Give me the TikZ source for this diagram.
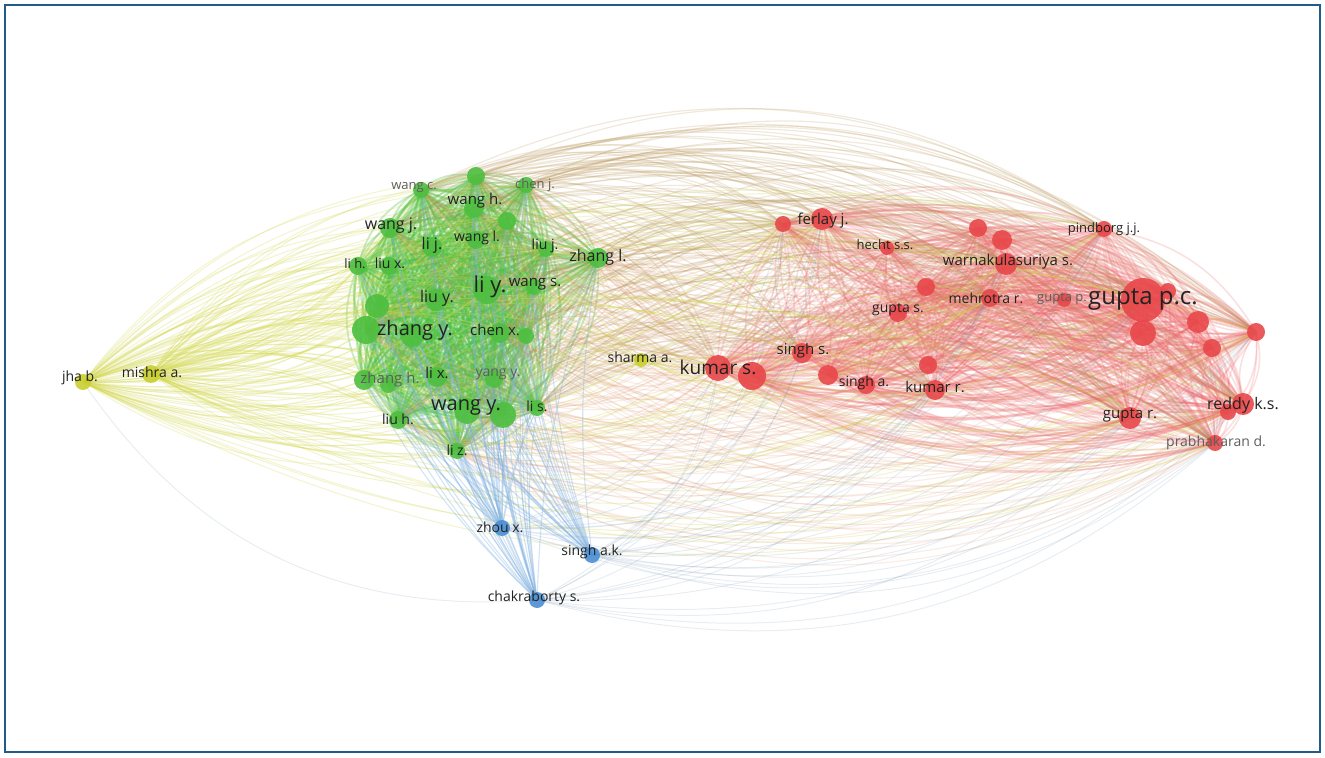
\documentclass[tikz,border=0pt]{standalone}
\usepackage{fontspec}
\setmainfont{Open Sans}
\usetikzlibrary{backgrounds}
\definecolor{frame}{HTML}{1F5C8A}
\definecolor{grn}{HTML}{4DBF3F}
\definecolor{red1}{HTML}{E8474A}
\definecolor{yel}{HTML}{C9CF2D}
\definecolor{blu}{HTML}{4A8ED2}
\definecolor{brn}{HTML}{B8965A}
\definecolor{org}{HTML}{D99064}
\definecolor{ink}{HTML}{222222}
\definecolor{ink2}{HTML}{5E5E5E}
\newcommand{\fs}[1]{\fontsize{#1}{#1}\selectfont}
\def\greenlist{g0,wangc,chenj,wangh,wangj,g1,lij,wangl,liuj,zhangl,lih,liux,liy,wangs,liuy,g2,zhangy,zhangy2,chenx,chenx2,zhangh,zhangh2,lix,yangy,wangy,wangy2,lis,liuh,liz}
\def\redlist{r1,ferlayj,hechtss,r2,r3,warnak,pindborg,r4,mehrotra,guptap,guptas,guptapc,guptapc2,r5,r6,r7,r8,kumars,kumars2,singhs,r10,singha,r11,kumarr,guptar,reddy,reddy2,prabh}
\def\greenhub{g0,wangc,wangh,wangj,chenj,zhangl,liy,zhangy,chenx,wangy,lis,liuh,liz}
\def\redhub{r1,ferlayj,warnak,pindborg,guptapc,kumars,singhs,kumarr,guptar,reddy,prabh,mehrotra,r8}

\begin{document}
\begin{tikzpicture}[x=0.5pt,y=-0.5pt,
  dot/.style={circle,inner sep=0pt,fill opacity=0.9},
  gdot/.style={dot,fill=grn},
  rdot/.style={dot,fill=red1},
  ydot/.style={dot,fill=yel},
  bdot/.style={dot,fill=blu},
  gedge/.style={grn,draw opacity=0.3,line width=0.9pt},
  redge/.style={red1!85,draw opacity=0.2,line width=0.8pt},
  xedge/.style={brn,draw opacity=0.22,line width=0.6pt},
  oedge/.style={org,draw opacity=0.16,line width=0.6pt},
  yedge/.style={yel!85,draw opacity=0.25,line width=0.55pt},
  bedge/.style={blu!70,draw opacity=0.35,line width=0.55pt},
  fedge/.style={blu!50!gray,draw opacity=0.15,line width=0.5pt},
  lbl/.style={inner sep=0pt,scale=0.5}]
  \useasboundingbox (0,0) rectangle (1325,758);
  \draw[frame,line width=1.2pt] (5,5) rectangle (1320,752);

  % green cluster
  \foreach \n/\x/\y/\d in {g0/476/176/18,wangc/421/190/16,chenj/526/185/16,wangh/474/208/20,
      wangj/390/228/20,g1/507/221/18,lij/432/247/20,wangl/476/240/18,liuj/546/249/16,
      zhangl/598/258/20,lih/358/266/18,liux/389/266/18,liy/487/290/28,wangs/534/287/16,
      liuy/436/300/22,g2/377/306/24,zhangy/366/330/28,zhangy2/412/335/24,chenx/500/333/20,
      chenx2/526/336/16,zhangh/364/380/20,zhangh2/388/385/16,lix/437/377/20,yangy/494/379/18,
      wangy/467/411/26,wangy2/503/415/26,lis/537/408/16,liuh/398/420/18,liz/457/451/16}
    \node[gdot,minimum size=\d*0.5] (\n) at (\x,\y) {};
  % red cluster
  \foreach \n/\x/\y/\d in {r1/783/224/16,ferlayj/822/219/22,hechtss/887/248/14,r2/978/228/18,
      r3/1002/240/20,warnak/1006/264/22,pindborg/1104/229/16,r4/926/287/18,mehrotra/990/298/18,
      guptap/1064/300/14,guptas/898/313/18,guptapc/1143/300/44,guptapc2/1143/333/26,
      r5/1168/291/16,r6/1198/322/22,r7/1212/348/18,r8/1256/332/18,kumars/718/368/26,
      kumars2/752/376/28,singhs/802/353/20,r10/828/375/20,singha/866/385/18,r11/928/365/18,
      kumarr/935/390/20,guptar/1130/418/22,reddy/1243/404/22,reddy2/1228/412/16,prabh/1215/443/16}
    \node[rdot,minimum size=\d*0.5] (\n) at (\x,\y) {};
  % yellow and blue
  \foreach \n/\x/\y/\d in {jhab/83/382/16,mishraa/151/374/18,sharmaa/641/360/14}
    \node[ydot,minimum size=\d*0.5] (\n) at (\x,\y) {};
  \foreach \n/\x/\y/\d in {zhoux/502/528/16,singhak/592/555/16,chakrabortys/537/600/16}
    \node[bdot,minimum size=\d*0.5] (\n) at (\x,\y) {};

  \begin{scope}[on background layer]
    \foreach \a in \greenlist {\foreach \b in \greenlist {\ifx\a\b\else
      \draw[gedge] (\a.center) to[bend left=25] (\b.center);\fi}}
    \foreach \a in \redlist {\foreach \b in \redlist {\ifx\a\b\else
      \draw[redge] (\a.center) to[bend left=25] (\b.center);\fi}}
    \foreach \a in \greenhub {\foreach \b in \redhub {
      \draw[xedge] (\a.center) to[bend left=30] (\b.center);
      \draw[oedge] (\b.center) to[bend left=32] (\a.center);}}
    \foreach \a in {jhab,mishraa} {
      \foreach \b in \greenlist {
        \draw[yedge] (\a.center) to[bend left=22] (\b.center);
        \draw[yedge] (\a.center) to[bend right=22] (\b.center);}
      \foreach \b in \redhub {
        \draw[yedge] (\a.center) to[bend left=20] (\b.center);
        \draw[yedge] (\a.center) to[bend right=25] (\b.center);}}
    \foreach \b in \greenhub {\draw[yedge] (sharmaa.center) to[bend left=15] (\b.center);}
    \foreach \b in \redhub {\draw[yedge] (sharmaa.center) to[bend right=15] (\b.center);}
    \foreach \a in {zhoux,singhak,chakrabortys} {
      \foreach \b in \greenlist {\draw[bedge] (\a.center) to[bend left=8] (\b.center);}
      \foreach \b in \redhub {\draw[fedge] (\a.center) to[bend right=28] (\b.center);}}
    \draw[fedge] (chakrabortys.center) to[bend left=30] (jhab.center);
  \end{scope}

  % labels
  \foreach \n/\x/\y/\s/\c/\lab in {wangc/414/188/13/ink2/wang c.,chenj/535/185/13/ink2/chen j.,
      wangh/475/201/15/ink/wang h.,wangj/391/226/16/ink/wang j.,lij/432/245/16/ink/li j.,
      wangl/477/238/14/ink/wang l.,liuj/545/246/14/ink/liu j.,zhangl/598/257/16/ink/zhang l.,
      lih/355/264/13/ink/li h.,liux/390/263/14/ink/liu x.,liy/490/287/22/ink/li y.,
      wangs/535/284/15/ink/wang s.,liuy/437/298/16/ink/liu y.,zhangy/415/330/20/ink/zhang y.,
      chenx/495/330/15/ink/chen x.,zhangh/390/380/15/ink2/zhang h.,lix/437/373/15/ink/li x.,
      yangy/498/374/14/ink2/yang y.,wangy/466/407/20/ink/wang y.,lis/537/406/14/ink/li s.,
      liuh/398/419/14/ink/liu h.,liz/457/450/14/ink/li z.,
      jhab/80/378/14/ink/jha b.,mishraa/152/372/14/ink/mishra a.,sharmaa/640/357/14/ink/sharma a.,
      zhoux/500/527/14/ink/zhou x.,singhak/592/552/14/ink/singh a.k.,
      chakrabortys/534/598/14/ink/chakraborty s.,
      ferlayj/823/221/15/ink/ferlay j.,hechtss/885/245/13/ink/hecht s.s.,
      warnak/1008/262/15/ink/warnakulasuriya s.,pindborg/1104/229/13/ink/pindborg j.j.,
      mehrotra/986/298/14/ink/mehrotra r.,guptap/1062/299/13/ink2/gupta p.,
      guptas/898/310/14/ink/gupta s.,guptapc/1143/299/24/ink/gupta p.c.,
      kumars/718/367/19/ink/kumar s.,singhs/803/351/15/ink/singh s.,singha/864/383/14/ink/singh a.,
      kumarr/935/387/15/ink/kumar r.,guptar/1130/415/15/ink/gupta r.,
      reddy/1243/405/16/ink/reddy k.s.,prabh/1216/443/14/ink2/prabhakaran d.}
    \node[lbl,text=\c] (\n-t) at (\x,\y) {\fs{\s}\lab};
\end{tikzpicture}
\end{document}
